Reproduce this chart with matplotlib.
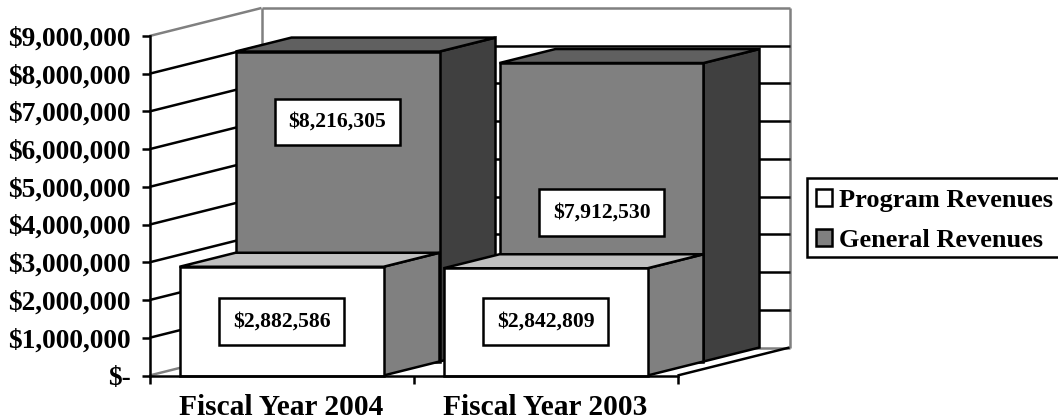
import matplotlib
matplotlib.use("Agg")
import matplotlib.pyplot as plt
from matplotlib.patches import Patch, Rectangle

plt.rcParams['font.family'] = ['Liberation Serif', 'DejaVu Serif']
plt.rcParams['font.weight'] = 'bold'

# values
years = ["Fiscal Year 2004", "Fiscal Year 2003"]
program_rev = [2882586, 2842809]
general_rev = [8216305, 7912530]
y_ticks = [0, 1000000, 2000000, 3000000, 4000000, 5000000, 6000000, 7000000, 8000000, 9000000]
y_labels = ["$-", "$1,000,000", "$2,000,000", "$3,000,000", "$4,000,000",
            "$5,000,000", "$6,000,000", "$7,000,000", "$8,000,000", "$9,000,000"]

W, H = 1058, 420
fig = plt.figure(figsize=(W / 100, H / 100), dpi=100, facecolor='white')
ax = fig.add_axes([149.5 / W, (H - 375.5) / H, 528 / W, 339.5 / H])
ax.patch.set_visible(False)
ax.set_xlim(0, 2)
ax.set_ylim(0, 9000000)

# oblique 3d: one series deep = 56px right, 14px up
DX = 56 / 264
DV = 14 / 339.5 * 9000000
BAR_X = 30 / 264
BAR_W = 204 / 264
LW = 1.8


def pt(x, v, d):
    return x + d * DX, v + d * DV


def poly(points, color):
    xs, ys = zip(*points)
    ax.fill(xs, ys, facecolor=color, edgecolor='black', lw=LW, joinstyle='miter',
            clip_on=False, zorder=1)


def bar(i, val, depth, front, top, side):
    x0 = i + BAR_X
    x1 = x0 + BAR_W
    poly([pt(x1, 0, depth), pt(x1, 0, depth + 1), pt(x1, val, depth + 1), pt(x1, val, depth)], side)
    poly([pt(x0, val, depth), pt(x1, val, depth), pt(x1, val, depth + 1), pt(x0, val, depth + 1)], top)
    poly([pt(x0, 0, depth), pt(x1, 0, depth), pt(x1, val, depth), pt(x0, val, depth)], front)


def line(a, b, color, width=LW):
    ax.plot([a[0], b[0]], [a[1], b[1]], color=color, lw=width, clip_on=False,
            zorder=0.5, solid_capstyle='butt')


# walls and floor
top = y_ticks[-1]
line(pt(0, top, 0), pt(0, top, 2), '#808080')
line(pt(0, top, 2), pt(2, top, 2), '#808080')
line(pt(0, top, 2), pt(0, 0, 2), '#808080')
line(pt(2, top, 2), pt(2, 0, 2), '#808080')
line(pt(0, 0, 0), pt(0, 0, 2), '#808080')
line(pt(0, 0, 2), pt(2, 0, 2), '#808080')
line(pt(2, 0, 0), pt(2, 0, 2), 'black')

# gridlines along side wall and back wall
for v in y_ticks[1:-1]:
    line(pt(0, v, 0), pt(0, v, 2), 'black')
    line(pt(0, v, 2), pt(2, v, 2), 'black')

for i in range(2):
    bar(i, general_rev[i], 1, '#808080', '#606060', '#404040')
for i in range(2):
    bar(i, program_rev[i], 0, '#FFFFFF', '#C0C0C0', '#808080')

# data labels, the general ones were moved by hand in the original
box = dict(boxstyle='square,pad=0.62', facecolor='white', edgecolor='black', lw=LW)
general_label_at = [6350000, 3940000]
for i in range(2):
    x, y = pt(i + 0.5, program_rev[i] / 2, 0)
    ax.text(x, y, "${:,}".format(program_rev[i]), fontsize=15.6, ha='center', va='center',
            bbox=box, zorder=3)
    x, y = pt(i + 0.5, general_label_at[i], 1)
    ax.text(x, y, "${:,}".format(general_rev[i]), fontsize=15.6, ha='center', va='center',
            bbox=box, zorder=3)

# axes
for s in ['top', 'right']:
    ax.spines[s].set_visible(False)
for s in ['left', 'bottom']:
    ax.spines[s].set_linewidth(LW)
    ax.spines[s].set_zorder(2.5)
ax.set_yticks(y_ticks, y_labels, fontsize=19.7, fontweight='bold')
ax.tick_params(axis='y', length=6, width=LW, pad=7.5)
ax.set_xticks([0, 1, 2], ['', '', ''])
ax.tick_params(axis='x', which='major', length=6, width=LW)
ax.set_xticks([0.5, 1.5], years, minor=True, fontsize=21.2, fontweight='bold')
ax.tick_params(axis='x', which='minor', length=0, pad=13)

# legend box runs off the right edge like in the reference
fig.add_artist(Rectangle((807 / W, (H - 257) / H), 270 / W, 79 / H, transform=fig.transFigure,
                         facecolor='white', edgecolor='black', lw=LW))
handles = [Patch(facecolor='white', edgecolor='black', lw=LW, label='Program Revenues'),
           Patch(facecolor='#808080', edgecolor='black', lw=LW, label='General Revenues')]
leg = fig.legend(handles=handles, loc='upper left', bbox_to_anchor=(805 / W, (H - 178) / H),
                 bbox_transform=fig.transFigure, fontsize=19, frameon=False,
                 borderaxespad=0, borderpad=0.41, labelspacing=0.65,
                 handlelength=0.62, handleheight=0.62, handletextpad=0.25)
for t in leg.get_texts():
    t.set_fontweight('bold')

fig.savefig("out.png", dpi=100)
